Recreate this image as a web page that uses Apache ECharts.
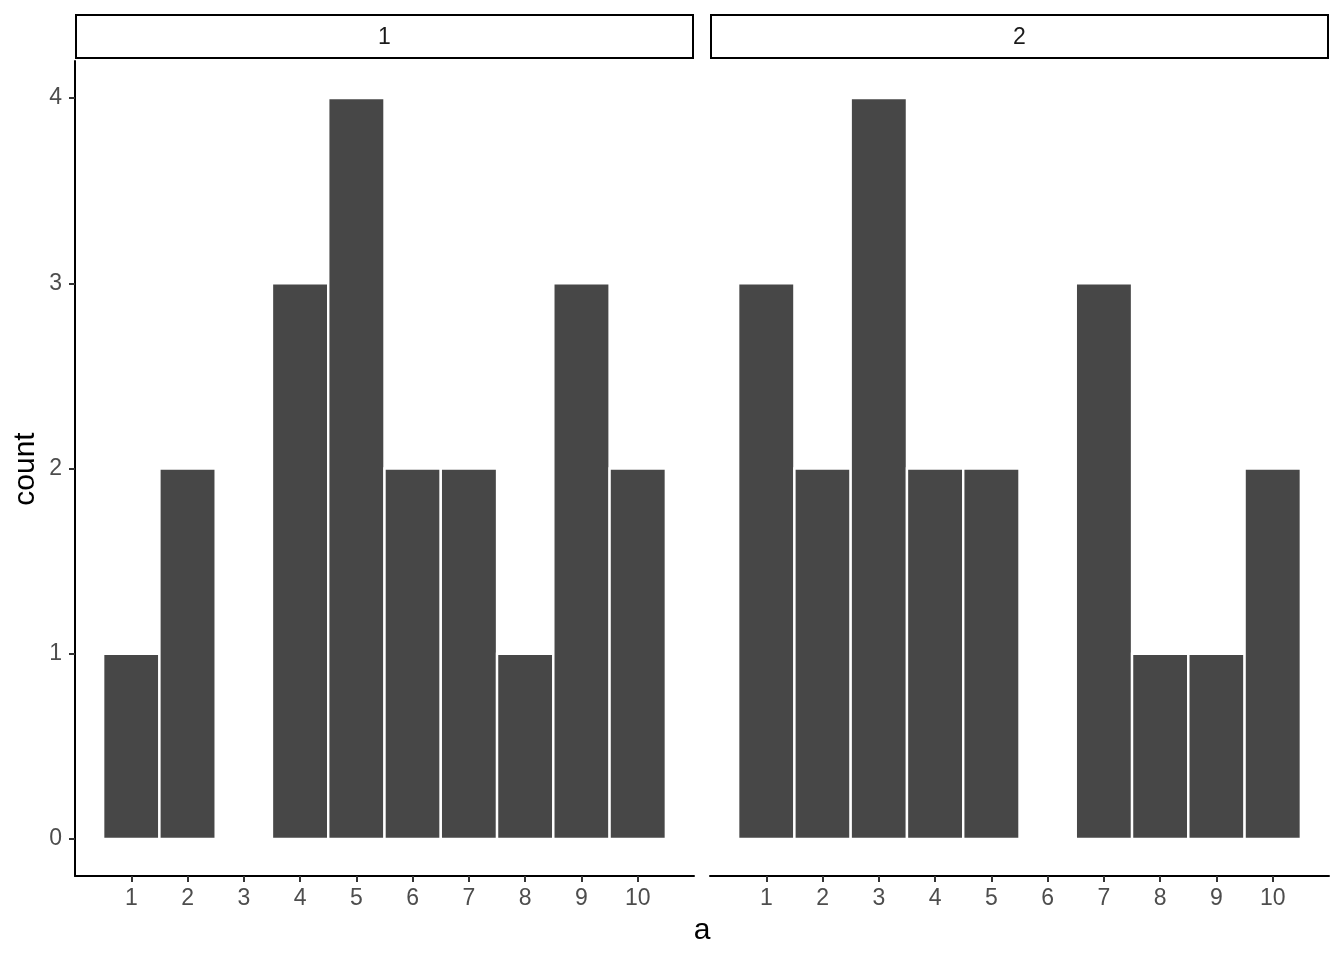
<!DOCTYPE html>
<html><head><meta charset="utf-8">
<script src="https://cdn.jsdelivr.net/npm/echarts@6/dist/echarts.min.js"></script>
<style>html,body{margin:0;padding:0;background:#fff}#c{width:1344px;height:960px}</style>
</head><body><div id="c"></div>
<script>
const bins = [1,2,3,4,5,6,7,8,9,10];
const facets = ['1','2'];
const counts1 = [1,2,0,3,4,2,2,1,3,2];
const counts2 = [3,2,4,2,2,0,3,1,1,2];
const yTicks = [0,1,2,3,4];

const chart = echarts.init(document.getElementById('c'));
const font = 'Liberation Sans, Arial, sans-serif';
function renderBar(params, api){
  const x = api.value(0), y = api.value(1);
  if (y <= 0) return null;
  const p0 = api.coord([x-0.5, 0]);
  const p1 = api.coord([x+0.5, y]);
  return {type:'rect', shape:{x:p0[0], y:p1[1], width:p1[0]-p0[0], height:p0[1]-p1[1]},
    style:{fill:'#474747', stroke:'#ffffff', lineWidth:2.4}};
}
const grids = [
  {left:75, top:61, width:619, height:815},
  {left:710, top:61, width:619, height:815}
];
function xAxis(i){
  return {type:'value', gridIndex:i, min:0, max:11, interval:1,
    axisLine:{show:true, onZero:false, lineStyle:{color:'#000', width:2}},
    axisTick:{show:true, length:6, lineStyle:{color:'#333', width:2}, customValues:bins},
    axisLabel:{color:'#4d4d4d', fontSize:23, fontFamily:font, margin:11, customValues:bins},
    splitLine:{show:false}};
}
function yAxis(i){
  return {type:'value', gridIndex:i, min:-0.2, max:4.2,
    axisLine:{show:i===0, onZero:false, lineStyle:{color:'#000', width:2}},
    axisTick:{show:i===0, length:6, lineStyle:{color:'#333', width:2}, customValues:yTicks},
    axisLabel:{show:i===0, color:'#4d4d4d', fontSize:23, fontFamily:font, margin:13, customValues:yTicks},
    splitLine:{show:false}};
}
const option = {
  backgroundColor:'#fff',
  animation:false,
  grid:grids,
  xAxis:[xAxis(0), xAxis(1)],
  yAxis:[yAxis(0), yAxis(1)],
  series:[
    {type:'custom', xAxisIndex:0, yAxisIndex:0, renderItem:renderBar,
      data:bins.map((b,i)=>[b,counts1[i]])},
    {type:'custom', xAxisIndex:1, yAxisIndex:1, renderItem:renderBar,
      data:bins.map((b,i)=>[b,counts2[i]])}
  ],
  graphic:[
    {type:'rect', shape:{x:76, y:15, width:617, height:43}, style:{fill:'#fff', stroke:'#000', lineWidth:2}},
    {type:'text', x:384.5, y:38, style:{text:facets[0], fill:'#1a1a1a', font:'23px '+font, align:'center', verticalAlign:'middle'}},
    {type:'rect', shape:{x:711, y:15, width:617, height:43}, style:{fill:'#fff', stroke:'#000', lineWidth:2}},
    {type:'text', x:1019.5, y:38, style:{text:facets[1], fill:'#1a1a1a', font:'23px '+font, align:'center', verticalAlign:'middle'}},
    {type:'text', x:702, y:931, style:{text:'a', fill:'#000', font:'30px '+font, align:'center', verticalAlign:'middle'}},
    {type:'text', x:26, y:469, rotation:Math.PI/2, style:{text:'count', fill:'#000', font:'30px '+font, align:'center', verticalAlign:'middle'}}
  ]
};
chart.setOption(option);
</script></body></html>
